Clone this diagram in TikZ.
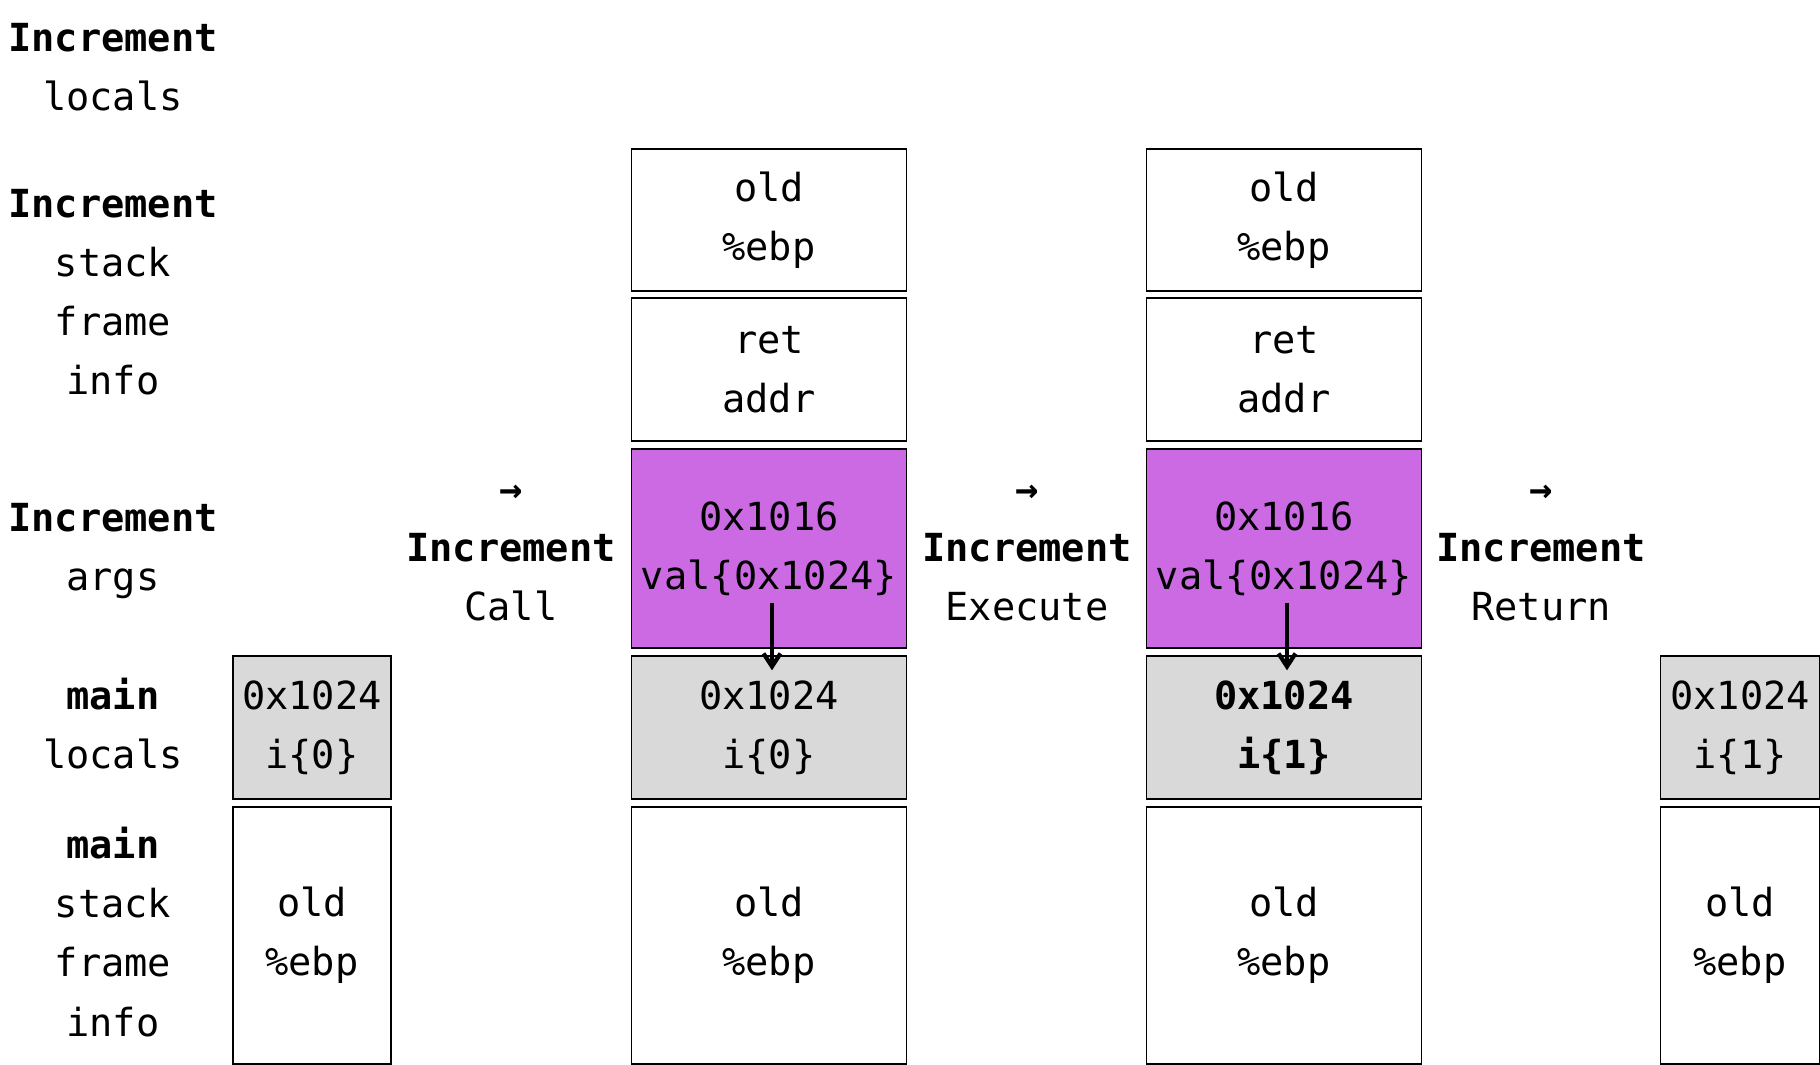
\documentclass[tikz,border=0pt]{standalone}
\usepackage{fontspec}
\setmainfont{DejaVu Sans Mono}
\usetikzlibrary{arrows.meta}
\definecolor{argpurple}{RGB}{204,106,228}
\definecolor{locgray}{RGB}{217,217,217}
\begin{document}
\begin{tikzpicture}[
  font=\fontsize{11}{16.8}\selectfont,
  lbl/.style={align=center, inner sep=0pt},
  box/.style={draw, line width=0.4pt, align=center, inner sep=0pt, minimum width=2.75cm},
  thin box/.style={box, minimum width=1.58cm},
  argbox/.style={box, fill=argpurple, minimum height=1.99cm},
  locbox/.style={fill=locgray, minimum height=1.43cm},
  arrow/.style={-{Straight Barb[length=1.3mm, width=1.7mm]}, line width=1.2pt}
]
\useasboundingbox (0,0) rectangle (18.2,-10.65);
% row labels
\node[lbl] (l1) at (1.13,-0.675) {\textbf{Increment}\\locals};
\node[lbl] (l2) at (1.13,-2.925) {\textbf{Increment}\\stack\\frame\\info};
\node[lbl] (l3) at (1.13,-5.51) {\textbf{Increment}\\args};
\node[lbl] (l4) at (1.13,-7.235) {\textbf{main}\\locals};
\node[lbl] (l5) at (1.13,-9.32) {\textbf{main}\\stack\\frame\\info};
% step labels
\node[lbl] (s1) at (5.11,-5.53) {\textbf{→}\\\textbf{Increment}\\Call};
\node[lbl] (s2) at (10.27,-5.53) {\textbf{→}\\\textbf{Increment}\\Execute};
\node[lbl] (s3) at (15.41,-5.53) {\textbf{→}\\\textbf{Increment}\\Return};
% before call
\node[thin box, locbox] (aloc) at (3.12,-7.275) {0x1024\\i\{0\}};
\node[thin box, minimum height=2.57cm] (amain) at (3.12,-9.355) {old\\\%ebp};
% during call
\node[box, minimum height=1.42cm] (bebp) at (7.69,-2.20) {old\\\%ebp};
\node[box, minimum height=1.43cm] (bret) at (7.69,-3.695) {ret\\addr};
\node[argbox] (barg) at (7.69,-5.485) {0x1016\\val\{0x1024\}};
\node[box, locbox] (bloc) at (7.69,-7.275) {0x1024\\i\{0\}};
\node[box, minimum height=2.57cm] (bmain) at (7.69,-9.355) {old\\\%ebp};
% during execute
\node[box, minimum height=1.42cm] (cebp) at (12.84,-2.20) {old\\\%ebp};
\node[box, minimum height=1.43cm] (cret) at (12.84,-3.695) {ret\\addr};
\node[argbox] (carg) at (12.84,-5.485) {0x1016\\val\{0x1024\}};
\node[box, locbox, font=\fontsize{11}{16.8}\selectfont\bfseries] (cloc) at (12.84,-7.275) {0x1024\\i\{1\}};
\node[box, minimum height=2.57cm] (cmain) at (12.84,-9.355) {old\\\%ebp};
% after return
\node[thin box, locbox, minimum width=1.59cm] (dloc) at (17.40,-7.275) {0x1024\\i\{1\}};
\node[thin box, minimum width=1.59cm, minimum height=2.57cm] (dmain) at (17.40,-9.355) {old\\\%ebp};
% pointers
\draw[arrow] ([xshift=0.03cm, yshift=-0.545cm]barg.center) -- ([xshift=0.03cm, yshift=-0.15cm]bloc.north);
\draw[arrow] ([xshift=0.03cm, yshift=-0.545cm]carg.center) -- ([xshift=0.03cm, yshift=-0.15cm]cloc.north);
\end{tikzpicture}
\end{document}
